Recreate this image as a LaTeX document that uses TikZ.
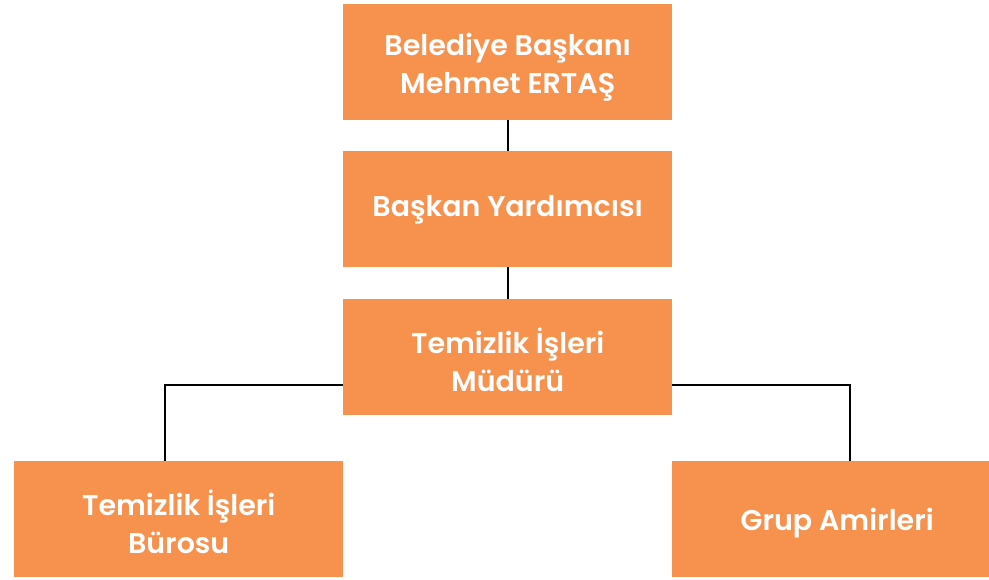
\documentclass[tikz,border=0pt]{standalone}
\usepackage{fontspec}
\setmainfont{Poppins}[BoldFont={Poppins SemiBold}]
\definecolor{boxorange}{HTML}{F6914E}
\begin{document}
\begin{tikzpicture}[x=1pt,y=-1pt,
  orgbox/.style={fill=boxorange, draw=none, minimum width=329pt, minimum height=116pt,
    text=white, align=center, font=\fontsize{28.5}{38}\selectfont\bfseries, inner sep=0pt},
  lbl/.style={text=white, align=center, font=\fontsize{28.5}{38}\selectfont\bfseries, inner sep=0pt},
  link/.style={draw=black, line width=2pt}]
\useasboundingbox (0,0) rectangle (989,580);
\node[orgbox, anchor=north west] (top) at (343,4) {};
\node[orgbox, anchor=north west] (dep) at (343,151) {};
\node[orgbox, anchor=north west] (mud) at (343,299) {};
\node[orgbox, anchor=north west] (buro) at (14,461) {};
\node[orgbox, anchor=north west, minimum width=330pt] (grup) at (672,461) {};
\node[lbl, yshift=-5pt] (toplbl) at (top) {Belediye Başkanı\\Mehmet ERTAŞ};
\node[lbl, yshift=-1pt] (deplbl) at (dep) {Başkan Yardımcısı};
\node[lbl, yshift=-3pt] (mudlbl) at (mud) {Temizlik İşleri\\Müdürü};
\node[lbl, yshift=-3pt] (burolbl) at (buro) {Temizlik İşleri\\Bürosu};
\node[lbl, yshift=-4pt] (gruplbl) at (grup) {Grup Amirleri};
\coordinate (lc) at (165,385);
\coordinate (rc) at (850,385);
\draw[link] (top.south) -- (dep.north);
\draw[link] (dep.south) -- (mud.north);
\draw[link] (mud.west |- lc) -- (lc) -- (lc |- buro.north);
\draw[link] (mud.east |- rc) -- (rc) -- (rc |- grup.north);
\end{tikzpicture}
\end{document}
